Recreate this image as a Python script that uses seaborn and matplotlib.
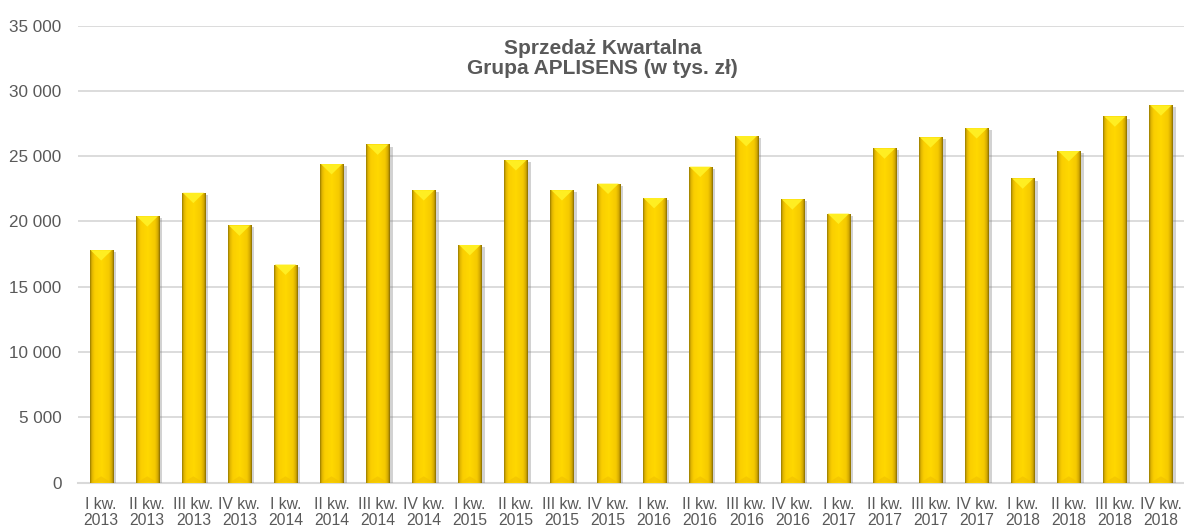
import numpy as np
import pandas as pd
import matplotlib
matplotlib.use("Agg")
import matplotlib.pyplot as plt
import matplotlib.patheffects as pe
from matplotlib.colors import LinearSegmentedColormap
from matplotlib.patches import Polygon
from matplotlib.ticker import FuncFormatter, MultipleLocator
import seaborn as sns

quarters = ["I kw.", "II kw.", "III kw.", "IV kw."]
years = ["2013", "2014", "2015", "2016", "2017", "2018"]
categories = [f"{q}\n{y}" for y in years for q in quarters]
sales = [17800, 20400, 22200, 19700,
         16700, 24400, 25900, 22400,
         18200, 24700, 22400, 22900,
         21800, 24200, 26550, 21700,
         20600, 25600, 26450, 27150,
         23300, 25400, 28050, 28900]
title_lines = ["Sprzedaż Kwartalna", "Grupa APLISENS (w tys. zł)"]

sns.set_theme(style="white")
plt.rcParams["font.family"] = ["Liberation Sans", "DejaVu Sans"]

df = pd.DataFrame({"kwartal": categories, "sprzedaz": sales})

fig = plt.figure(figsize=(11.84, 5.27), dpi=100)
ax = fig.add_axes([0.066, 0.0844, 0.934, 0.8668])

sns.barplot(data=df, x="kwartal", y="sprzedaz", color="#FFD200", width=0.5,
            ax=ax, saturation=1, edgecolor="none", zorder=3)

ax.set_ylim(0, 35000)
ax.set_xlim(-0.5, len(categories) - 0.5)
ax.yaxis.set_major_locator(MultipleLocator(5000))
ax.yaxis.set_major_formatter(FuncFormatter(lambda v, p: f"{v:,.0f}".replace(",", " ")))
ax.grid(axis="y", color="#D9D9D9", linewidth=1.3, zorder=0)
ax.set_axisbelow(True)
for s in ["top", "right", "left"]:
    ax.spines[s].set_visible(False)
ax.spines["bottom"].set_color("#D9D9D9")
ax.spines["bottom"].set_linewidth(1.5)
ax.set_xlabel("")
ax.set_ylabel("")
ax.tick_params(axis="y", length=0, pad=12, labelsize=12.3, labelcolor="#595959")
ax.tick_params(axis="x", length=0, pad=10.5, labelsize=11.3, labelcolor="#595959")
for t in ax.get_xticklabels():
    t.set_linespacing(1.05)

# gold gradient across each bar
cmap = LinearSegmentedColormap.from_list(
    "gold",
    [(0.0, "#8C7200"), (0.07, "#DDB200"), (0.2, "#FACE00"), (0.5, "#FFD800"),
     (0.8, "#F5C900"), (0.93, "#CFA500"), (1.0, "#7A6300")])
grad = np.linspace(0, 1, 256).reshape(1, -1)

fig.canvas.draw()
inv = ax.transData.inverted()
for patch in ax.patches:
    x0, y0 = patch.get_x(), patch.get_y()
    w, h = patch.get_width(), patch.get_height()
    patch.set_path_effects([pe.SimplePatchShadow(offset=(2.5, -1.5), shadow_rgbFace="#808080", alpha=0.35),
                            pe.Normal()])
    im = ax.imshow(grad, cmap=cmap, aspect="auto", extent=(x0, x0 + w, y0, y0 + h),
                   zorder=4, interpolation="bicubic")
    im.set_clip_path(patch)
    # top bevel triangle
    (dx0, dtop) = ax.transData.transform((x0, y0 + h))
    (dx1, _) = ax.transData.transform((x0 + w, y0 + h))
    depth = (dx1 - dx0) * 0.45
    _, apex_y = inv.transform((0, dtop - depth))
    tri = Polygon([(x0 + w * 0.04, y0 + h), (x0 + w * 0.96, y0 + h), (x0 + w / 2, apex_y)],
                  closed=True, facecolor="#FFEE22", edgecolor="none", zorder=5)
    ax.add_patch(tri)
    # subtle bottom bevel
    _, bot_y = inv.transform((0, ax.transData.transform((0, y0))[1] + depth * 0.6))
    tri2 = Polygon([(x0 + w * 0.06, y0), (x0 + w * 0.94, y0), (x0 + w / 2, bot_y)],
                   closed=True, facecolor="#F0C000", edgecolor="none", alpha=0.6, zorder=5)
    ax.add_patch(tri2)
ax.set_xlim(-0.5, len(categories) - 0.5)
ax.set_ylim(0, 35000)

fig.text(0.509, 0.889, "\n".join(title_lines), ha="center", va="center",
         fontsize=15, fontweight="bold", color="#595959", linespacing=1.12)

fig.savefig("out.png", dpi=100, facecolor="white")
